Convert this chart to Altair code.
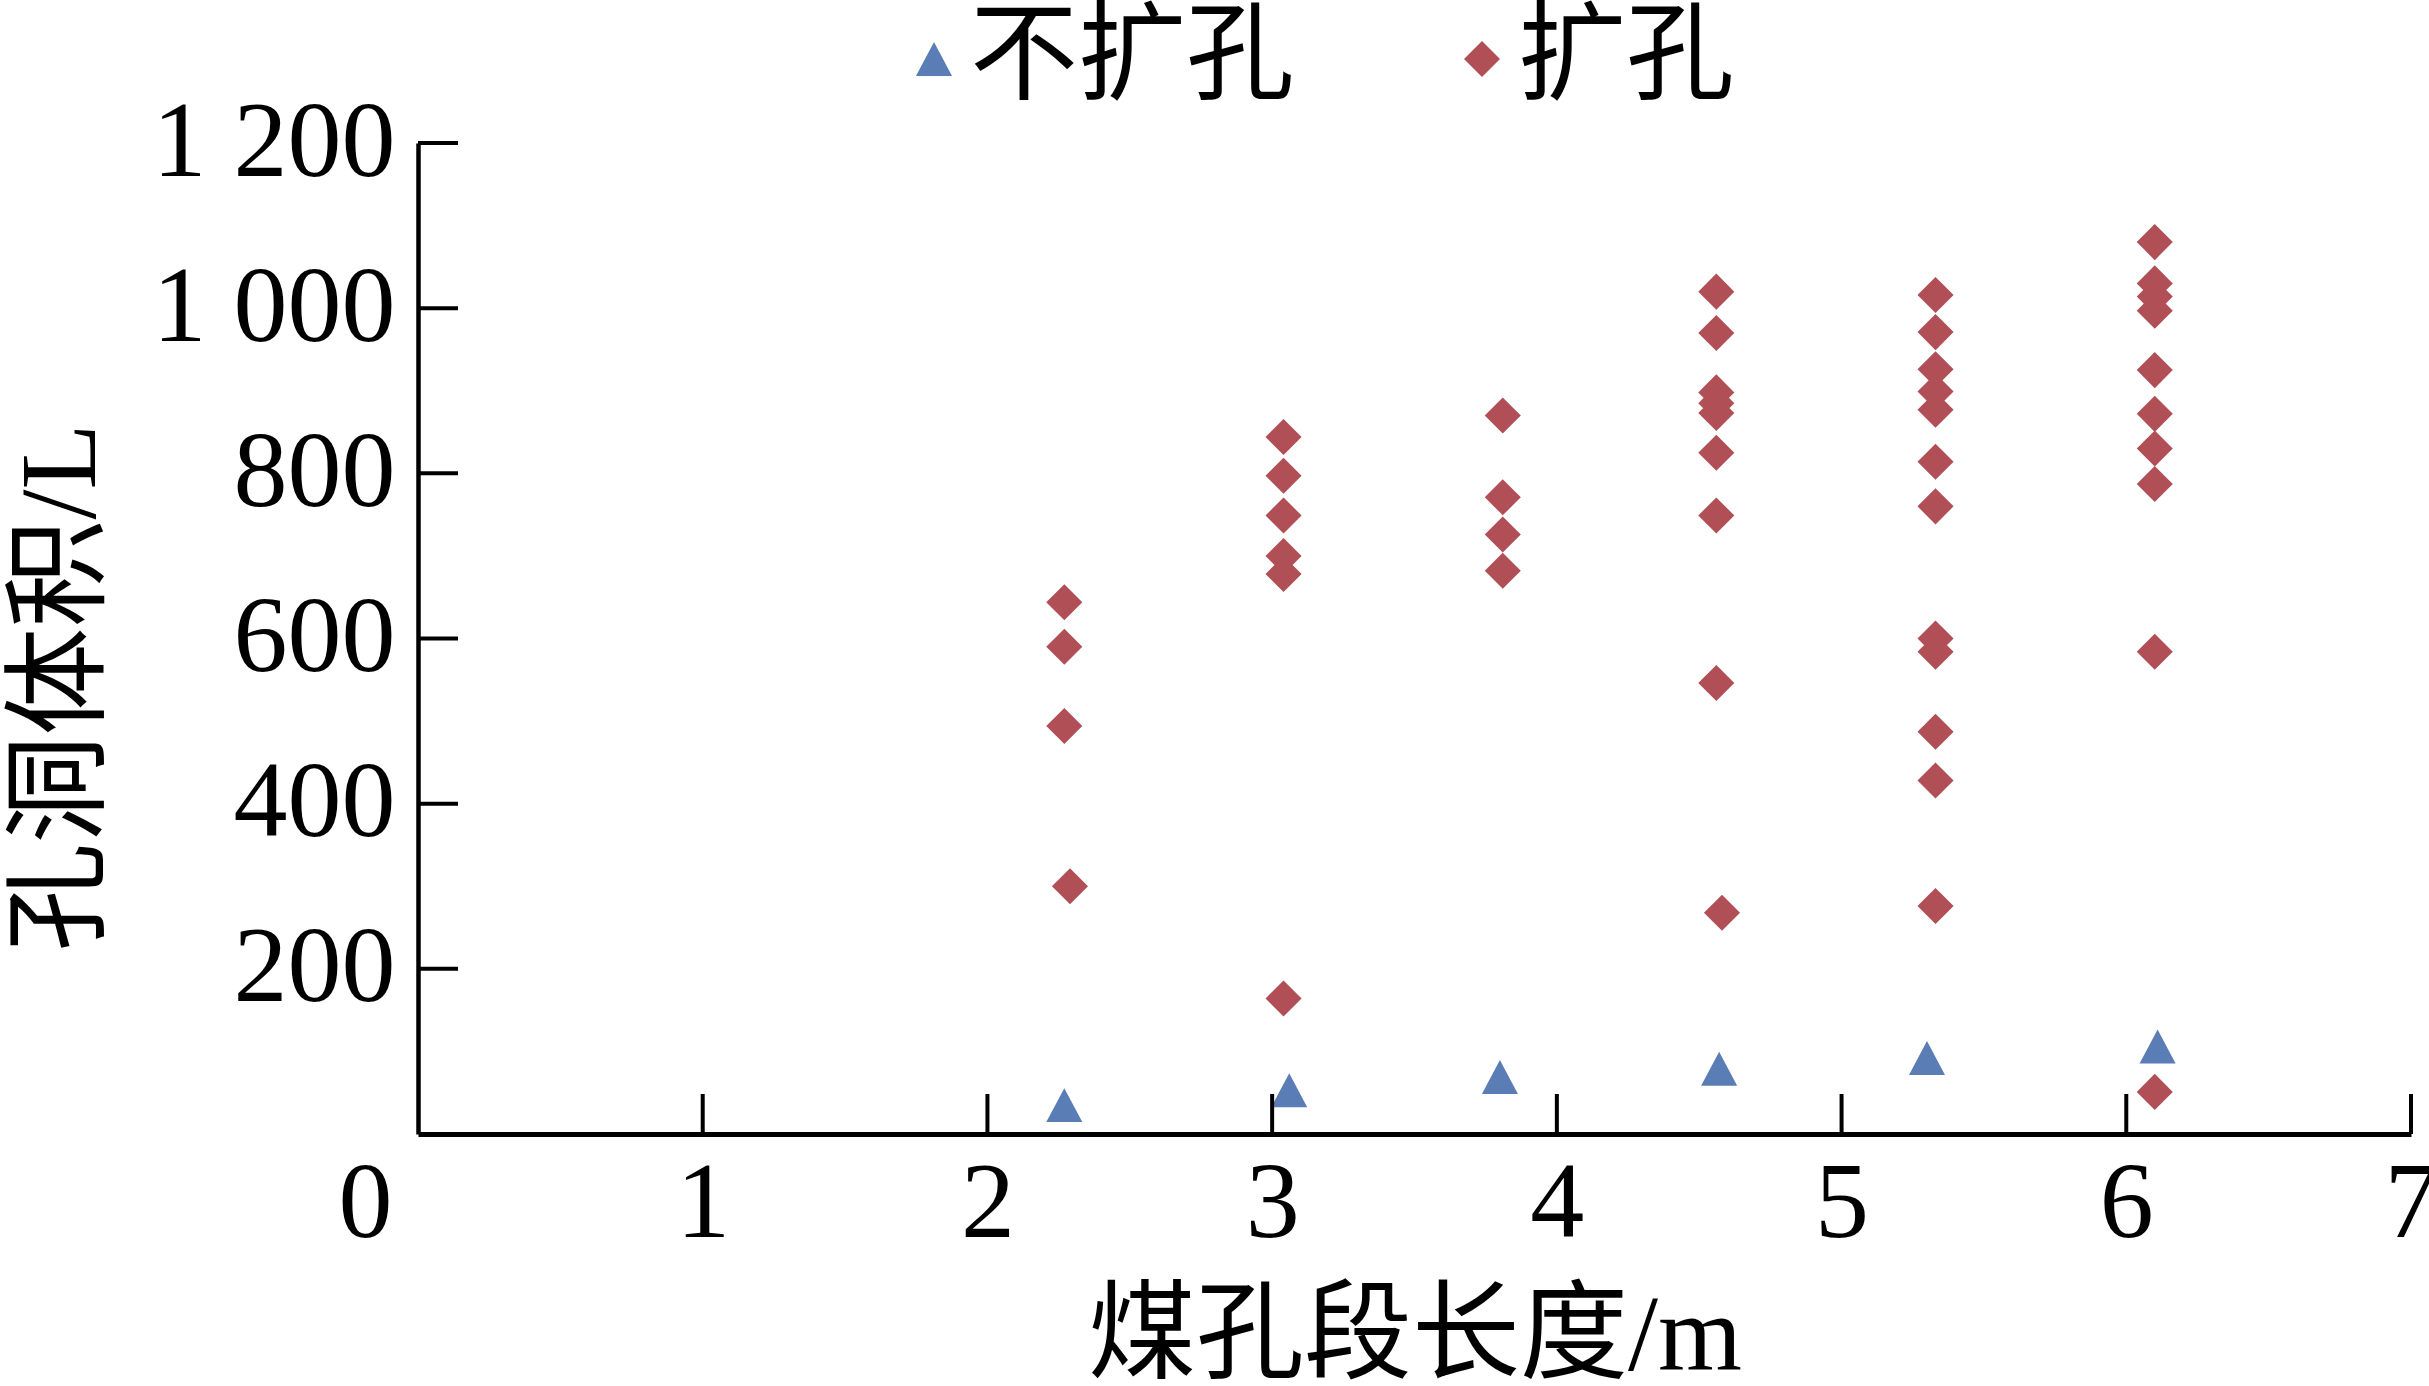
import altair as alt
import pandas as pd

# Series names (legend order)
series_names = ["不扩孔", "扩孔"]

# 不扩孔: coal-section length (m) and cavity volume (L)
plain_len = [2.27, 3.06, 3.80, 4.57, 5.30, 6.11]
plain_vol = [35, 53, 69, 79, 92, 106]

# 扩孔: coal-section length (m) and cavity volume (L)
reamed_len = [
    2.27, 2.27, 2.27, 2.29,
    3.04, 3.04, 3.04, 3.04, 3.04, 3.04,
    3.81, 3.81, 3.81, 3.81,
    4.56, 4.56, 4.56, 4.56, 4.56, 4.56, 4.56, 4.56, 4.58,
    5.33, 5.33, 5.33, 5.33, 5.33, 5.33, 5.33, 5.33, 5.33, 5.33, 5.33, 5.33,
    6.10, 6.10, 6.10, 6.10, 6.10, 6.10, 6.10, 6.10, 6.10, 6.10,
]
reamed_vol = [
    644, 590, 494, 300,
    844, 797, 749, 700, 678, 164,
    870, 771, 726, 682,
    1020, 970, 898, 885, 873, 825, 749, 546, 268,
    1016, 971, 926, 899, 877, 814, 760, 600, 584, 487, 428, 276,
    1080, 1030, 1014, 997, 925, 872, 830, 787, 584, 51,
]

# Axis tick values
x_ticks = [0, 1, 2, 3, 4, 5, 6, 7]
y_ticks = [0, 200, 400, 600, 800, 1000, 1200]

W, H = 1993, 991
FONT = "Liberation Serif, Noto Sans CJK SC"
FS = 108
BLUE = "#5B7DB5"
RED = "#B04F56"
TRIANGLE = "M0,-0.94L1,0.94L-1,0.94Z"

points = pd.DataFrame({
    "len": plain_len + reamed_len,
    "vol": plain_vol + reamed_vol,
    "series": [series_names[0]] * len(plain_len) + [series_names[1]] * len(reamed_len),
})

legend = alt.Legend(
    title=None,
    orient="none",
    legendX=462,
    legendY=-138,
    direction="horizontal",
    labelFont=FONT,
    labelFontSize=FS,
    labelColor="black",
    labelLimit=0,
    labelOffset=alt.ExprRef(expr="-18"),
    columnPadding=133,
    symbolSize=1300,
    symbolStrokeWidth=0,
    symbolOpacity=1,
    padding=0,
)

x_enc = alt.X(
    "len:Q",
    scale=alt.Scale(domain=[0, 7], nice=False, zero=True),
    axis=alt.Axis(
        values=x_ticks,
        format="d",
        title="煤孔段长度/m",
        grid=False,
        ticks=False,
        tickSize=0,
        domainColor="black",
        domainWidth=5,
        labelFont=FONT,
        labelFontSize=FS,
        labelColor="black",
        labelPadding=17,
        labelLimit=0,
        labelFlush=False,
        labelOverlap=False,
        labelAlign={"condition": {"test": "datum.value == 0", "value": "right"}, "value": "center"},
        labelOffset={"condition": {"test": "datum.value == 0", "value": -26}, "value": 0},
        titleFont=FONT,
        titleFontSize=FS,
        titleFontWeight="normal",
        titleColor="black",
        titleY=203,
        titleBaseline="middle",
    ),
)

y_enc = alt.Y(
    "vol:Q",
    scale=alt.Scale(domain=[0, 1200], nice=False),
    axis=alt.Axis(
        values=y_ticks,
        title="孔洞体积/L",
        grid=False,
        ticks=False,
        tickSize=0,
        domainColor="black",
        domainWidth=4.5,
        labelFont=FONT,
        labelFontSize=FS,
        labelColor="black",
        labelPadding=23,
        labelLimit=0,
        labelFlush=False,
        labelOverlap=False,
        labelExpr="datum.value == 0 ? '' : replace(format(datum.value, ','), ',', ' ')",
        titleFont=FONT,
        titleFontSize=FS,
        titleFontWeight="normal",
        titleColor="black",
        titleX=-356,
        titleY=544,
        titleAngle=270,
        titleAlign="center",
        titleBaseline="middle",
    ),
)

scatter = alt.Chart(points).mark_point(filled=True, size=1300, opacity=1, strokeWidth=0).encode(
    x=x_enc,
    y=y_enc,
    color=alt.Color("series:N", scale=alt.Scale(domain=series_names, range=[BLUE, RED]), legend=legend),
    shape=alt.Shape("series:N", scale=alt.Scale(domain=series_names, range=[TRIANGLE, "diamond"]), legend=legend),
)

# Inward-pointing tick marks along both axes
y_tick_rules = alt.Chart(pd.DataFrame({"vol": y_ticks[1:]})).mark_rule(color="black", strokeWidth=4).encode(
    y="vol:Q", x=alt.value(0), x2=alt.value(40)
)
x_tick_rules = alt.Chart(pd.DataFrame({"len": x_ticks[1:]})).mark_rule(color="black", strokeWidth=4).encode(
    x="len:Q", y=alt.value(H), y2=alt.value(H - 40)
)

chart = alt.layer(scatter, y_tick_rules, x_tick_rules).properties(
    width=W,
    height=H,
    autosize=alt.AutoSizeParams(type="none"),
    padding={"left": 418, "top": 143, "right": 18, "bottom": 252},
    background="white",
).configure_view(stroke=None)

chart.save("out.html", embed_options={"renderer": "svg", "actions": False})
